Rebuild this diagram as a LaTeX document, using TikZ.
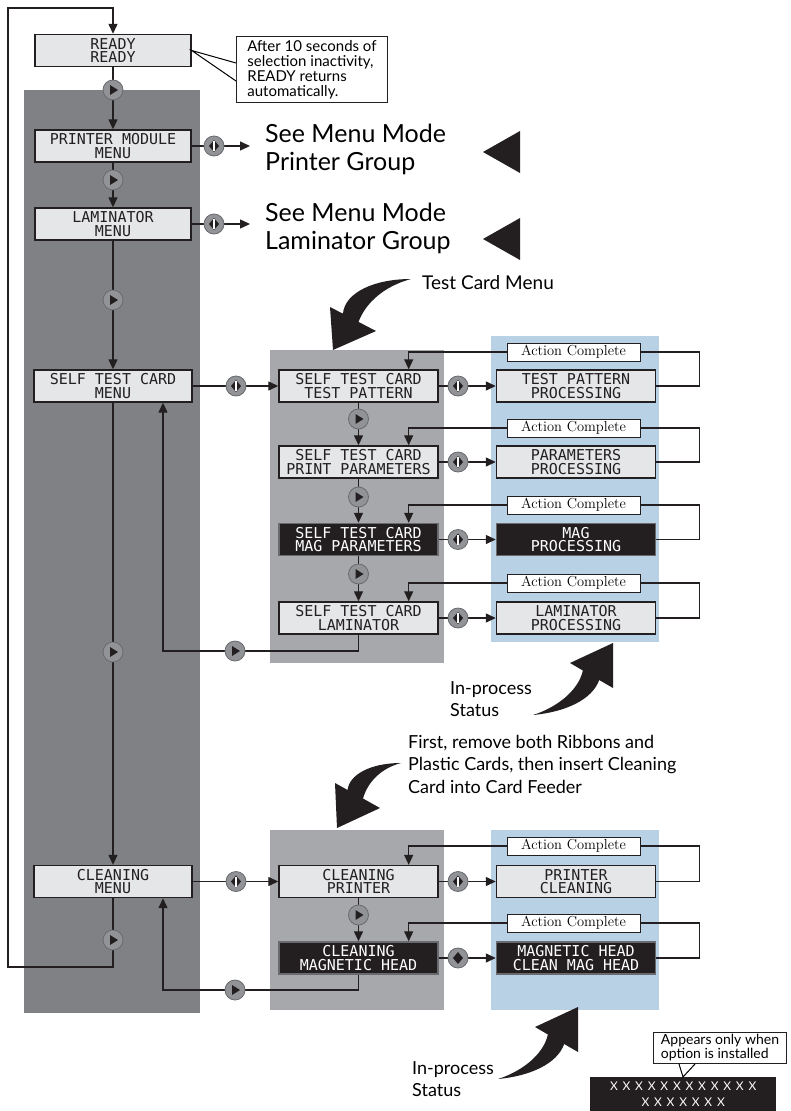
\documentclass[tikz,border=0pt]{standalone}
\usepackage{fontspec}
\setsansfont{Lato}
\newfontfamily\lcdfont{DejaVu Sans Mono}
\newfontfamily\xxfont[LetterSpace=40]{Lato}
\usetikzlibrary{arrows.meta}
\definecolor{darkpanel}{RGB}{128,129,133}
\definecolor{midpanel}{RGB}{167,168,172}
\definecolor{bluepanel}{RGB}{185,209,229}
\definecolor{lcdgray}{RGB}{229,230,232}
\definecolor{inkblack}{RGB}{35,31,32}
\definecolor{btngray}{RGB}{146,147,151}
\definecolor{btnedge}{RGB}{105,106,110}
\tikzset{
  lcd/.style={draw=inkblack, line width=1.4pt, fill=lcdgray, text=inkblack, minimum width=156pt, minimum height=32pt, inner sep=0pt, align=center, font=\lcdfont\fontsize{15}{13.5}\selectfont},
  lcdmid/.style={lcd, minimum width=159pt},
  lcdblk/.style={lcdmid, fill=inkblack, draw=btnedge, text=white},
  actbox/.style={draw=inkblack, line width=1pt, fill=white, minimum width=133pt, minimum height=18pt, inner sep=0pt, font=\rmfamily\fontsize{14.5}{16}\selectfont},
  notebox/.style={draw=inkblack, line width=1pt, fill=white, align=left, inner sep=0pt, anchor=north west, font=\sffamily\fontsize{15}{15}\selectfont},
  bigtext/.style={anchor=north west, align=left, inner xsep=15pt, inner ysep=0pt, font=\sffamily\fontsize{25}{28}\selectfont},
  captext/.style={anchor=north west, align=left, inner sep=0pt, font=\sffamily\fontsize{18}{22.5}\selectfont},
  conn/.style={draw=inkblack, line width=1.3pt, -{Triangle[length=10pt,width=9pt]}},
  wire/.style={draw=inkblack, line width=1.3pt},
  btn/.style={circle, fill=btngray, draw=btnedge, line width=0.8pt, minimum size=20pt, inner sep=0pt},
  gobtn/.style={btn, path picture={\fill[inkblack] (path picture bounding box.center) ++(-3pt,5pt) -- ++(8pt,-5pt) -- ++(-8pt,-5pt) -- cycle;}},
  selbtn/.style={btn, path picture={\fill[inkblack] (path picture bounding box.center) ++(0pt,6pt) -- ++(5pt,-6pt) -- ++(-5pt,-6pt) -- ++(-5pt,6pt) -- cycle;
    \draw[white, line width=1.2pt] (path picture bounding box.center) ++(0pt,5pt) -- ++(0pt,-10pt);}},
  setbtn/.style={btn, path picture={\fill[inkblack] (path picture bounding box.center) ++(0pt,6pt) -- ++(5pt,-6pt) -- ++(-5pt,-6pt) -- ++(-5pt,6pt) -- cycle;}}
}
\begin{document}
\begin{tikzpicture}[x=1pt,y=-1pt]
\useasboundingbox (0,0) rectangle (791,1111);
%PANELS
\fill[darkpanel] (24,90) rectangle (200,1013);
\fill[midpanel] (270,350) rectangle (444,663);
\fill[bluepanel] (491,336) rectangle (659,642);
\fill[midpanel] (270,830) rectangle (444,1010);
\fill[bluepanel] (491,830) rectangle (659,1010);
%MAIN MENU
\draw (113,50.5) node[lcd] (ready) {READY\\READY};
\draw (113,146) node[lcd] (pm) {PRINTER MODULE\\MENU};
\draw (113,224) node[lcd] (lam) {LAMINATOR\\MENU};
\draw (113,386) node[lcd, minimum width=158pt] (stc) {SELF TEST CARD\\MENU};
\draw (113,881.5) node[lcd, minimum width=158pt] (cln) {CLEANING\\MENU};
%TEST CARD MENU
\draw (358.5,386) node[lcdmid] (stp) {SELF TEST CARD\\TEST PATTERN};
\draw (358.5,462) node[lcdmid] (spp) {SELF TEST CARD\\PRINT PARAMETERS};
\draw (358.5,539.5) node[lcdblk] (smag) {SELF TEST CARD\\MAG PARAMETERS};
\draw (358.5,618) node[lcdmid] (slam) {SELF TEST CARD\\LAMINATOR};
\draw (358.5,881.5) node[lcdmid] (cpr) {CLEANING\\PRINTER};
\draw (358.5,958) node[lcdblk] (cmag) {CLEANING\\MAGNETIC HEAD};
%PROCESSING
\draw (576,386) node[lcdmid] (rtp) {TEST PATTERN\\PROCESSING};
\draw (576,462) node[lcdmid] (rpp) {PARAMETERS\\PROCESSING};
\draw (576,539.5) node[lcdblk] (rmag) {MAG\\PROCESSING};
\draw (576,618) node[lcdmid] (rlam) {LAMINATOR\\PROCESSING};
\draw (576,881.5) node[lcdmid] (rpc) {PRINTER\\CLEANING};
\draw (576,958) node[lcdblk] (rmh) {MAGNETIC HEAD\\CLEAN MAG HEAD};
%ACTION COMPLETE
\draw (573.5,352) node[actbox] (ac1) {Action Complete};
\draw (573.5,428) node[actbox] (ac2) {Action Complete};
\draw (573.5,505) node[actbox] (ac3) {Action Complete};
\draw (573.5,583) node[actbox] (ac4) {Action Complete};
\draw (573.5,846) node[actbox] (ac5) {Action Complete};
\draw (573.5,923) node[actbox] (ac6) {Action Complete};
%TEXTS
\draw (250,124) node[bigtext] (seepm) {See Menu Mode\\Printer Group};
\draw (250,203) node[bigtext] (seelam) {See Menu Mode\\Laminator Group};
\draw (422,283) node[anchor=west, inner sep=0pt, font=\sffamily\fontsize{19}{21}\selectfont] (tcm) {Test Card Menu};
\draw (450,681) node[captext] (ips1) {In-process\\Status};
\draw (408,735) node[captext] (first) {First, remove both Ribbons and\\Plastic Cards, then insert Cleaning\\Card into Card Feeder};
\draw (412,1061) node[captext] (ips2) {In-process\\Status};
%CALLOUTS
\draw (236,36) node[notebox, minimum width=151pt, minimum height=66pt] (tip1) {After 10 seconds of\\selection inactivity,\\READY returns\\automatically.};
\fill[white] (ready.east) -- ([yshift=-27pt]tip1.north west) -- ([yshift=-45pt]tip1.north west) -- cycle;
\draw[line width=1pt] ([yshift=-27pt]tip1.north west) -- (ready.east) -- ([yshift=-45pt]tip1.north west);
\draw (590,1077) node[anchor=north west, fill=inkblack, text=white, minimum width=186pt, minimum height=34pt, inner sep=0pt, align=center, font=\xxfont\fontsize{12}{16}\selectfont] (xbox) {XXXXXXXXXXXX\\XXXXXXX};
\draw (653,1032) node[notebox, minimum width=133pt, minimum height=31pt, font=\sffamily\fontsize{14}{14}\selectfont] (tip2) {Appears only when\\option is installed};
\fill[white] ([xshift=26pt]tip2.south west) -- ([xshift=93pt]xbox.north west) -- ([xshift=42pt]tip2.south west) -- cycle;
\draw[line width=1pt] ([xshift=26pt]tip2.south west) -- ([xshift=93pt]xbox.north west) -- ([xshift=42pt]tip2.south west);
%BIG POINTERS
\fill[inkblack] (483,152) -- (520,131) -- (520,173) -- cycle;
\fill[inkblack] (483,239) -- (520,218) -- (520,260) -- cycle;
\fill[inkblack] (411,279) .. controls (375,279) and (345,292) .. (342.9,313.7) -- (330,307) -- (333,350) -- (376,331) -- (358.5,321.9) .. controls (366,302) and (385,286) .. cycle;
\fill[inkblack] (401,763) .. controls (370,763) and (349,775) .. (347.6,790) -- (335,783) -- (337,828) -- (380,808) -- (363,798.5) .. controls (368,781) and (382,768) .. cycle;
\fill[inkblack] (533,715) .. controls (555,708) and (578,692) .. (582.9,670.5) -- (570,663) -- (613,643) -- (613,688) -- (599.2,680) .. controls (592,700) and (565,712) .. cycle;
\begin{scope}[shift={(-35,364)}]
\fill[inkblack] (533,715) .. controls (555,708) and (578,692) .. (582.9,670.5) -- (570,663) -- (613,643) -- (613,688) -- (599.2,680) .. controls (592,700) and (565,712) .. cycle;
\end{scope}
\coordinate (lpt) at (8,8);
\coordinate (lpb) at (8,967);
\coordinate (lp1) at (163,651);
\coordinate (lp2) at (163,990);
%SPINE LINES
\draw[conn] (ready) -- (pm);
\draw[conn] (pm) -- (lam);
\draw[conn] (lam) -- (stc);
\draw[conn] (stc) -- (cln);
\draw[conn] (stp) -- (spp);
\draw[conn] (spp) -- (smag);
\draw[conn] (smag) -- (slam);
\draw[conn] (cpr) -- (cmag);
%CLEANING back to READY
\draw[conn] (cln) -- (cln |- lpb) -- (lpb) -- (lpt) -- (ready |- lpt) -- (ready);
%MENUS to SUBMENUS
\draw[conn] (pm.east) -- (pm.east -| seepm.west);
\draw[conn] (lam.east) -- (lam.east -| seelam.west);
\draw[conn] (stc) -- (stp);
\draw[conn] (cln) -- (cpr);
%SUBMENUS to PROCESSING
\draw[conn] (stp) -- (rtp);
\draw[conn] (spp) -- (rpp);
\draw[conn] (smag) -- (rmag);
\draw[conn] (slam) -- (rlam);
\draw[conn] (cpr) -- (rpc);
\draw[conn] (cmag) -- (rmh);
%ACTION COMPLETE loops
\draw[conn] (ac1.west) -| ([xshift=-30pt]stp.north east);
\draw[wire] (ac1.east) -- ++(59,0) |- (rtp.east);
\draw[conn] (ac2.west) -| ([xshift=-30pt]spp.north east);
\draw[wire] (ac2.east) -- ++(59,0) |- (rpp.east);
\draw[conn] (ac3.west) -| ([xshift=-30pt]smag.north east);
\draw[wire] (ac3.east) -- ++(59,0) |- (rmag.east);
\draw[conn] (ac4.west) -| ([xshift=-30pt]slam.north east);
\draw[wire] (ac4.east) -- ++(59,0) |- (rlam.east);
\draw[conn] (ac5.west) -| ([xshift=-30pt]cpr.north east);
\draw[wire] (ac5.east) -- ++(59,0) |- (rpc.east);
\draw[conn] (ac6.west) -| ([xshift=-30pt]cmag.north east);
\draw[wire] (ac6.east) -- ++(59,0) |- (rmh.east);
%LAST ITEM back to MENU
\draw[conn] (slam) -- (slam |- lp1) -- (lp1) -- (lp1 |- stc.south);
\draw[conn] (cmag) -- (cmag |- lp2) -- (lp2) -- (lp2 |- cln.south);
%BUTTONS
\draw (113,90) node[gobtn] (go1) {};
\draw (113,180) node[gobtn] (go2) {};
\draw (113,300) node[gobtn] (go3) {};
\draw (113,652) node[gobtn] (go4) {};
\draw (113,940) node[gobtn] (go5) {};
\draw (358.5,419) node[gobtn] (go6) {};
\draw (358.5,497) node[gobtn] (go7) {};
\draw (358.5,574) node[gobtn] (go8) {};
\draw (358.5,915) node[gobtn] (go9) {};
\draw (235,651) node[gobtn] (go10) {};
\draw (235,990) node[gobtn] (go11) {};
\draw (214,146) node[selbtn] (sel1) {};
\draw (214,224) node[selbtn] (sel2) {};
\draw (236,386) node[selbtn] (sel3) {};
\draw (458,386) node[selbtn] (sel4) {};
\draw (458,462) node[selbtn] (sel5) {};
\draw (458,539.5) node[selbtn] (sel6) {};
\draw (458,618) node[selbtn] (sel7) {};
\draw (236,881.5) node[selbtn] (sel8) {};
\draw (458,881.5) node[selbtn] (sel9) {};
\draw (458,958) node[setbtn] (set1) {};
\end{tikzpicture}
\end{document}
